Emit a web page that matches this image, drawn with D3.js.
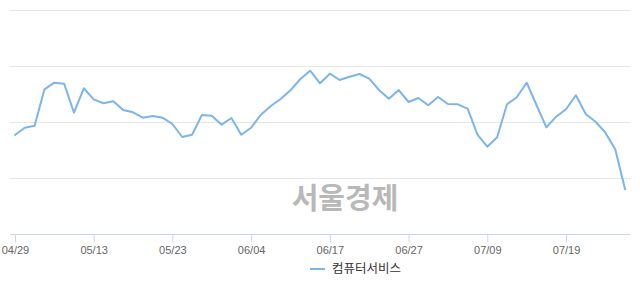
<!DOCTYPE html>
<html>
<head>
<meta charset="utf-8">
<script src="https://cdn.jsdelivr.net/npm/d3@7"></script>
<style>
  html, body { margin: 0; padding: 0; background: #fff; }
  svg { display: block; }
</style>
</head>
<body>
<svg id="chart" width="640" height="294"></svg>
<script>
// ─── Data ──────────────────────────────────────────────────────────
const dates = [
  "04/29", "04/30", "05/02", "05/03", "05/07", "05/08", "05/09", "05/10",
  "05/13", "05/14", "05/15", "05/16", "05/17", "05/20", "05/21", "05/22",
  "05/23", "05/24", "05/27", "05/28", "05/29", "05/30", "05/31", "06/03",
  "06/04", "06/05", "06/07", "06/10", "06/11", "06/12", "06/13", "06/14",
  "06/17", "06/18", "06/19", "06/20", "06/21", "06/24", "06/25", "06/26",
  "06/27", "06/28", "07/01", "07/02", "07/03", "07/04", "07/05", "07/08",
  "07/09", "07/10", "07/11", "07/12", "07/15", "07/16", "07/17", "07/18",
  "07/19", "07/22", "07/23", "07/24", "07/25", "07/26", "07/29"
];

const values = [
  176.8, 189.8, 193.4, 258.4, 270.2, 268.4, 216.6, 260.2,
  240.5, 233.4, 237.0, 221.4, 217.3, 207.7, 210.7, 207.7,
  196.4, 173.2, 177.3, 212.5, 211.3, 195.2, 207.1, 177.3,
  189.8, 213.0, 228.6, 241.1, 256.6, 276.8, 291.6, 269.1,
  286.3, 275.0, 280.9, 285.7, 277.3, 257.1, 241.6, 257.1,
  235.7, 242.9, 229.8, 244.6, 232.1, 231.6, 223.8, 177.3,
  155.9, 172.7, 231.6, 244.1, 270.2, 230.4, 190.5, 209.5,
  222.7, 247.7, 214.3, 200.5, 180.9, 151.3, 79.8
];

const tickLabels = ["04/29", "05/13", "05/23", "06/04", "06/17", "06/27", "07/09", "07/19"];
const gridValues = [0, 100, 200, 300, 400];
const seriesName = "컴퓨터서비스";
const watermark = "서울경제";

// ─── Layout ────────────────────────────────────────────────────────
const width = 640, height = 294;
const plot = { left: 10, right: 630, top: 10, bottom: 234 };
const lineColor = "#7cb5ec";
const tickFont = "'Liberation Sans Narrow', 'Liberation Sans', Arial, sans-serif";
const krFont = "'Noto Sans CJK KR', 'Noto Sans', sans-serif";

const svg = d3.select("#chart");

const x = d3.scalePoint()
  .domain(dates)
  .range([plot.left, plot.right])
  .padding(0.5);

const y = d3.scaleLinear()
  .domain([0, 400])
  .range([plot.bottom, plot.top]);

// ─── Grid lines ────────────────────────────────────────────────────
svg.append("g")
  .selectAll("line")
  .data(gridValues.slice(1))
  .join("line")
  .attr("x1", plot.left)
  .attr("x2", plot.right)
  .attr("y1", d => Math.round(y(d)) + 0.5)
  .attr("y2", d => Math.round(y(d)) + 0.5)
  .attr("stroke", "#e6e6e6")
  .attr("stroke-width", 1);

// ─── Watermark ─────────────────────────────────────────────────────
svg.append("text")
  .attr("x", 345)
  .attr("y", 209)
  .attr("text-anchor", "middle")
  .attr("font-family", krFont)
  .attr("font-weight", "bold")
  .attr("font-size", 29)
  .attr("fill", "#b8b8b8")
  .text(watermark);

// ─── X axis ────────────────────────────────────────────────────────
const xAxis = svg.append("g")
  .attr("transform", `translate(0,${Math.round(y(0)) + 0.5})`)
  .call(d3.axisBottom(x).tickValues(tickLabels).tickSize(8).tickPadding(4).tickSizeOuter(0));

xAxis.select(".domain")
  .attr("d", `M${plot.left},0H${plot.right}`)
  .attr("stroke", "#ccd6eb");
xAxis.selectAll(".tick line").attr("stroke", "#ccd6eb");
xAxis.selectAll(".tick text")
  .attr("font-family", tickFont)
  .attr("font-size", 11)
  .attr("fill", "#666666");

// ─── Line ──────────────────────────────────────────────────────────
const line = d3.line()
  .x((d, i) => x(dates[i]))
  .y(d => y(d));

svg.append("path")
  .datum(values)
  .attr("fill", "none")
  .attr("stroke", lineColor)
  .attr("stroke-width", 2)
  .attr("stroke-linejoin", "round")
  .attr("stroke-linecap", "round")
  .attr("d", line);

// ─── Legend ────────────────────────────────────────────────────────
const legend = svg.append("g").attr("transform", "translate(310,269)");
legend.append("line")
  .attr("x1", 0).attr("x2", 15)
  .attr("y1", 0).attr("y2", 0)
  .attr("stroke", lineColor)
  .attr("stroke-width", 2);
legend.append("text")
  .attr("x", 22)
  .attr("dy", "0.35em")
  .attr("font-family", krFont)
  .attr("font-size", 12.5)
  .attr("fill", "#333333")
  .text(seriesName);
</script>
</body>
</html>
